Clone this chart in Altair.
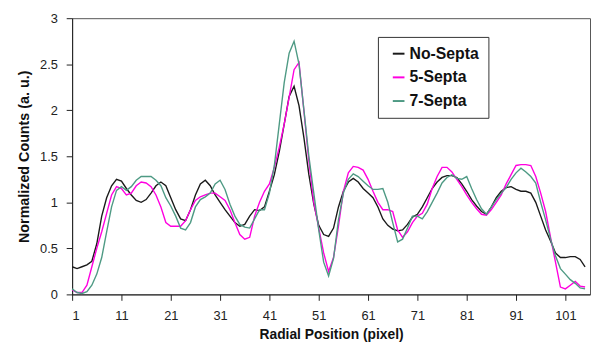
import altair as alt
import pandas as pd

positions = list(range(1, 106))

no_septa = [0.30, 0.28, 0.30, 0.32, 0.36, 0.55, 0.85, 1.05, 1.18, 1.25,
            1.23, 1.15, 1.08, 1.02, 1.00, 1.03, 1.10, 1.18, 1.22, 1.18,
            1.05, 0.92, 0.82, 0.80, 0.92, 1.08, 1.20, 1.24, 1.18, 1.08,
            1.00, 0.92, 0.85, 0.78, 0.74, 0.76, 0.85, 0.92, 0.91, 0.95,
            1.12, 1.30, 1.55, 1.85, 2.15, 2.26, 2.05, 1.70, 1.30, 0.98,
            0.75, 0.65, 0.63, 0.72, 0.95, 1.12, 1.22, 1.26, 1.22, 1.15,
            1.10, 1.05, 0.95, 0.82, 0.75, 0.71, 0.69, 0.70, 0.76, 0.84,
            0.87, 0.95, 1.05, 1.15, 1.22, 1.27, 1.29, 1.29, 1.27, 1.20,
            1.12, 1.03, 0.96, 0.90, 0.87, 0.95, 1.05, 1.12, 1.16, 1.17,
            1.14, 1.12, 1.12, 1.10, 1.00, 0.85, 0.70, 0.58, 0.45, 0.40,
            0.40, 0.41, 0.41, 0.38, 0.30]

five_septa = [0.05, 0.02, 0.02, 0.10, 0.30, 0.50, 0.68, 0.88, 1.08, 1.17,
              1.15, 1.08, 1.10, 1.18, 1.22, 1.21, 1.17, 1.08, 0.95, 0.78,
              0.74, 0.74, 0.74, 0.80, 0.92, 1.02, 1.06, 1.08, 1.10, 1.10,
              1.06, 1.02, 0.92, 0.78, 0.65, 0.60, 0.62, 0.85, 1.00, 1.12,
              1.20, 1.38, 1.60, 1.85, 2.14, 2.44, 2.52, 1.99, 1.45, 1.00,
              0.72, 0.45, 0.25, 0.40, 0.74, 1.12, 1.32, 1.39, 1.38, 1.35,
              1.25, 1.12, 1.00, 0.92, 0.92, 0.90, 0.70, 0.62, 0.68, 0.78,
              0.85, 0.88, 0.98, 1.15, 1.28, 1.38, 1.38, 1.33, 1.25, 1.17,
              1.08, 1.00, 0.93, 0.87, 0.86, 0.92, 1.00, 1.08, 1.20, 1.30,
              1.40, 1.41, 1.41, 1.40, 1.28, 1.10, 0.90, 0.62, 0.35, 0.08,
              0.06, 0.10, 0.14, 0.09, 0.08]

seven_septa = [0.06, 0.02, 0.01, 0.03, 0.10, 0.22, 0.40, 0.68, 0.95, 1.13,
               1.17, 1.13, 1.17, 1.24, 1.28, 1.28, 1.28, 1.24, 1.18, 1.05,
               0.96, 0.85, 0.72, 0.70, 0.78, 0.95, 1.03, 1.06, 1.10, 1.20,
               1.24, 1.14, 0.98, 0.85, 0.76, 0.73, 0.72, 0.82, 0.92, 0.92,
               1.10, 1.40, 1.85, 2.30, 2.62, 2.75, 2.50, 2.00, 1.50, 1.10,
               0.70, 0.35, 0.20, 0.39, 0.81, 1.10, 1.25, 1.31, 1.28, 1.23,
               1.18, 1.14, 1.14, 1.15, 1.00, 0.78, 0.57, 0.60, 0.72, 0.85,
               0.85, 0.82, 0.90, 1.00, 1.10, 1.21, 1.27, 1.30, 1.26, 1.25,
               1.28, 1.15, 1.03, 0.93, 0.87, 0.95, 1.03, 1.10, 1.16, 1.25,
               1.32, 1.37, 1.33, 1.28, 1.21, 1.00, 0.81, 0.60, 0.42, 0.28,
               0.22, 0.16, 0.12, 0.07, 0.06]

series_names = ["No-Septa", "5-Septa", "7-Septa"]
series_colors = ["#1a1a1a", "#ff00e0", "#4e9a84"]
x_ticks = [1, 11, 21, 31, 41, 51, 61, 71, 81, 91, 101]
y_ticks = [0, 0.5, 1, 1.5, 2, 2.5, 3]

rows = []
for name, vals in zip(series_names, [no_septa, five_septa, seven_septa]):
    for p, v in zip(positions, vals):
        rows.append({"pos": p, "val": v, "series": name})
df = pd.DataFrame(rows)

FONT = "Liberation Sans"

chart = alt.Chart(df).mark_line(strokeWidth=1.4).encode(
    x=alt.X("pos:Q",
            scale=alt.Scale(domain=[1, 106], nice=False, zero=False),
            axis=alt.Axis(values=x_ticks, title="Radial Position (pixel)",
                          grid=False, tickSize=6, labelPadding=9,
                          titlePadding=6, labelFontSize=13,
                          titleFontSize=14, titleFontWeight="bold")),
    y=alt.Y("val:Q",
            scale=alt.Scale(domain=[0, 3], nice=False),
            axis=alt.Axis(values=y_ticks, format="~g",
                          title="Normalized Counts (a. u.)",
                          grid=False, tickSize=6, labelPadding=9,
                          titlePadding=8, labelFontSize=13,
                          titleFontSize=14.5, titleFontWeight="bold")),
    color=alt.Color("series:N",
                    scale=alt.Scale(domain=series_names, range=series_colors),
                    sort=series_names,
                    legend=alt.Legend(title=None, orient="none",
                                      legendX=310, legendY=19,
                                      symbolType="stroke", symbolSize=140,
                                      symbolStrokeWidth=2, symbolOffset=4,
                                      labelOffset=3,
                                      labelFontSize=16, labelFontWeight="bold",
                                      labelColor="#111",
                                      strokeColor="#333", fillColor="white",
                                      padding=9, rowPadding=8, offset=0)),
    order="pos:Q",
).properties(
    width=525, height=280,
    padding={"left": 65, "top": 8, "right": 1, "bottom": 50},
    autosize=alt.AutoSizeParams(type="none"),
).configure(
    font=FONT,
).configure_axis(
    domainColor="#222", tickColor="#222", labelColor="#222",
    titleColor="#111", labelFont=FONT, titleFont=FONT,
).configure_view(
    stroke="#555", strokeWidth=1,
).configure_legend(
    labelFont=FONT,
)

chart.save("out.html", embed_options={"renderer": "svg", "actions": False})
